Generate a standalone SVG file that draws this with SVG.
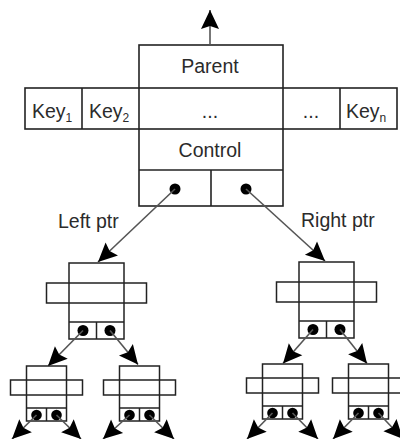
<svg xmlns="http://www.w3.org/2000/svg" width="400" height="439" viewBox="0 0 400 439">
  <style>
    .frame { fill: none; stroke: #222; stroke-width: 1.6; }
    .thin { fill: none; stroke: #222; stroke-width: 1.5; }
    .dot { fill: #000; }
    .lbl { font-family: "Liberation Sans", Arial, sans-serif; font-size: 19.5px; fill: #2b2b2b; }
    .sub { font-family: "Liberation Sans", Arial, sans-serif; font-size: 12px; fill: #2b2b2b; }
    .link { stroke: #555; stroke-width: 1.6; fill: none; marker-end: url(#head); }
  </style>
  <defs>
    <marker id="head" markerUnits="userSpaceOnUse" markerWidth="22" markerHeight="18" refX="19" refY="9" orient="auto" overflow="visible">
      <path d="M0,0 L19,9 L0,18 L3,9 z" fill="#000"/>
    </marker>
    <!-- small tree node: upper box, key bar, pointer cells -->
    <g id="mini">
      <rect class="thin" x="-27.5" y="0" width="55" height="76"/>
      <rect class="thin" x="-50" y="20" width="100" height="20"/>
      <line class="thin" x1="-27.5" y1="59" x2="27.5" y2="59"/>
      <line class="thin" x1="0" y1="59" x2="0" y2="76"/>
      <circle class="dot" cx="-13.5" cy="67.5" r="5.5"/>
      <circle class="dot" cx="13.5" cy="67.5" r="5.5"/>
    </g>
    <g id="leaf">
      <rect class="thin" x="-20" y="0" width="40" height="55"/>
      <rect class="thin" x="-36" y="14" width="72" height="15"/>
      <line class="thin" x1="-20" y1="42" x2="20" y2="42"/>
      <line class="thin" x1="0" y1="42" x2="0" y2="55"/>
      <circle class="dot" cx="-10" cy="49" r="5.3"/>
      <circle class="dot" cx="10" cy="49" r="5.3"/>
    </g>
  </defs>

  <!-- root node -->
  <g id="root">
    <rect class="frame" x="139" y="45" width="144" height="161"/>
    <rect class="frame" x="25" y="88" width="372" height="41"/>
    <line class="frame" x1="139" y1="170" x2="283" y2="170"/>
    <line class="frame" x1="82" y1="88" x2="82" y2="129"/>
    <line class="frame" x1="340" y1="88" x2="340" y2="129"/>
    <line class="frame" x1="211" y1="170" x2="211" y2="206"/>
    <text class="lbl" x="210" y="73" text-anchor="middle">Parent</text>
    <text class="lbl" x="32" y="118">Key<tspan class="sub" dy="4">1</tspan></text>
    <text class="lbl" x="89" y="118">Key<tspan class="sub" dy="4">2</tspan></text>
    <text class="lbl" x="210" y="118" text-anchor="middle">...</text>
    <text class="lbl" x="311" y="118" text-anchor="middle">...</text>
    <text class="lbl" x="346" y="118">Key<tspan class="sub" dy="4">n</tspan></text>
    <text class="lbl" x="210" y="157" text-anchor="middle">Control</text>
    <circle class="dot" cx="175" cy="189" r="5.5"/>
    <circle class="dot" cx="246" cy="189" r="5.5"/>
  </g>

  <g id="mid-left"><use href="#mini" x="96.5" y="263"/></g>
  <g id="mid-right"><use href="#mini" x="326.5" y="262"/></g>
  <g id="leaf-1"><use href="#leaf" x="46.5" y="366"/></g>
  <g id="leaf-2"><use href="#leaf" x="139.5" y="366"/></g>
  <g id="leaf-3"><use href="#leaf" x="282.5" y="364"/></g>
  <g id="leaf-4"><use href="#leaf" x="368.5" y="364"/></g>

  <!-- pointer labels -->
  <text class="lbl" x="58" y="228">Left ptr</text>
  <text class="lbl" x="301" y="227">Right ptr</text>

  <!-- connectors -->
  <g id="links">
    <line class="link" x1="210" y1="45" x2="210" y2="10"/>
    <line class="link" x1="175" y1="189" x2="98" y2="262"/>
    <line class="link" x1="246" y1="189" x2="325" y2="261"/>
    <line class="link" x1="83" y1="330.5" x2="48" y2="366"/>
    <line class="link" x1="110" y1="330.5" x2="138" y2="364.5"/>
    <line class="link" x1="313" y1="329.5" x2="283" y2="363.5"/>
    <line class="link" x1="340" y1="329.5" x2="367" y2="363.5"/>
    <line class="link" x1="36.5" y1="415" x2="12" y2="439"/>
    <line class="link" x1="56.5" y1="415" x2="81" y2="439"/>
    <line class="link" x1="129.5" y1="415" x2="103" y2="439"/>
    <line class="link" x1="149.5" y1="415" x2="174" y2="439"/>
    <line class="link" x1="272.5" y1="413" x2="247" y2="439"/>
    <line class="link" x1="292.5" y1="413" x2="318" y2="439"/>
    <line class="link" x1="358.5" y1="413" x2="333" y2="439"/>
    <line class="link" x1="378.5" y1="413" x2="403" y2="439"/>
  </g>
</svg>
